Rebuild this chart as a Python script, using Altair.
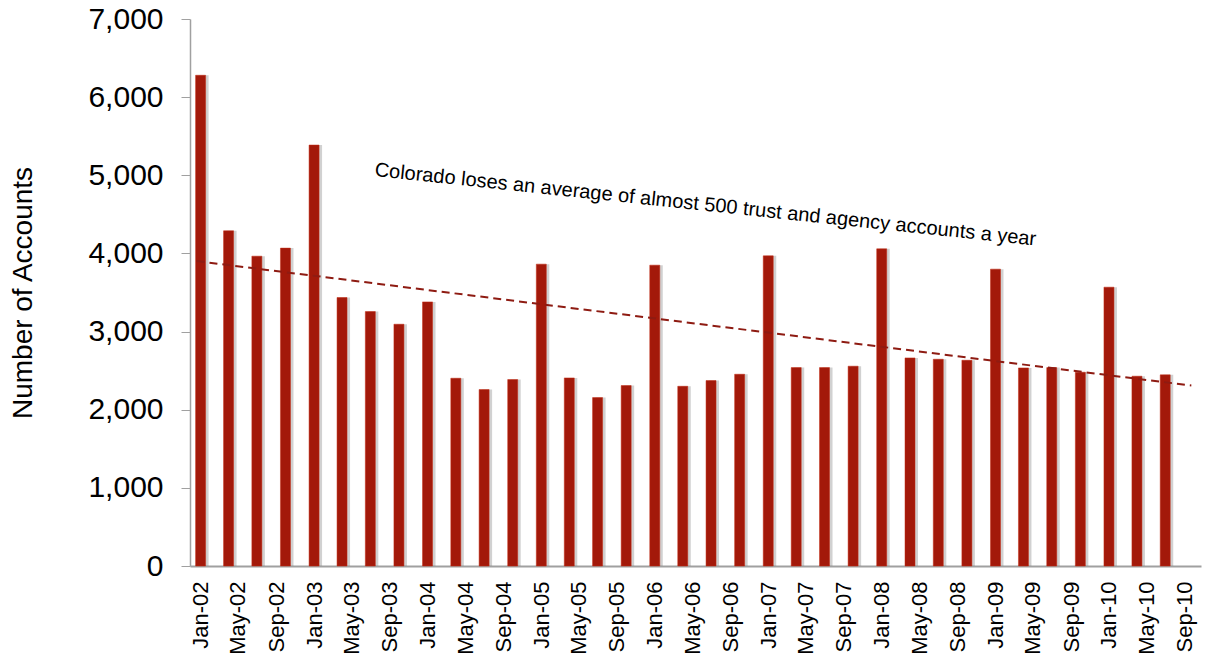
import altair as alt
import pandas as pd

# Quarterly observations, Jan-02 .. Jul-10
dates = pd.date_range("2002-01-01", "2010-07-01", freq="QS-JAN").strftime("%Y-%m-%d").tolist()
accounts = [6280, 4290, 3965, 4068, 5387, 3436, 3256, 3094, 3380, 2403,
            2258, 2386, 3863, 2407, 2155, 2309, 3850, 2300, 2373, 2454,
            3969, 2539, 2539, 2557, 4059, 2663, 2646, 2633, 3799, 2535,
            2539, 2480, 3568, 2429, 2446]

tick_years = list(range(2002, 2011))
tick_months = [1, 5, 9]
annotation = "Colorado loses an average of almost 500 trust and agency accounts a year"

df = pd.DataFrame({"date": dates, "accounts": accounts})

x_start = pd.Timestamp("2001-12-14")
x_end = pd.Timestamp("2010-10-08")
trend_start = pd.Timestamp("2001-12-19")
trend_end = pd.Timestamp("2010-09-23")


def ms(ts):
    return int(ts.value // 1_000_000)


def dt(ts):
    return alt.DateTime(year=ts.year, month=ts.month, date=ts.day, utc=True)


tick_values = [alt.DateTime(year=y, month=m, date=1, utc=True)
               for y in tick_years for m in tick_months]

x_scale = alt.Scale(type="utc", domain=[dt(x_start), dt(x_end)])
y_scale = alt.Scale(domain=[0, 7000], nice=False)

x_axis = alt.Axis(
    values=tick_values,
    labelExpr="utcFormat(datum.value, '%b-%y')",
    labelAngle=270,
    labelFontSize=22,
    labelFont="Liberation Sans",
    labelColor="#000000",
    labelPadding=15,
    ticks=False,
    domainColor="#a0a0a0",
    domainWidth=2,
    grid=False,
    title=None,
    labelOverlap=False,
)

y_axis = alt.Axis(
    values=list(range(0, 7001, 1000)),
    labelExpr="format(datum.value, ',')",
    labelFontSize=30,
    labelFont="Liberation Sans",
    labelColor="#000000",
    labelPadding=18,
    tickSize=9,
    tickColor="#a0a0a0",
    domainColor="#a0a0a0",
    domainWidth=1.5,
    grid=False,
    title="Number of Accounts",
    titleFont="Liberation Sans",
    titleFontSize=28,
    titleFontWeight="normal",
    titleColor="#000000",
    titlePadding=50,
)

base = alt.Chart(df)

shadow = base.mark_bar(width=10, xOffset=3, color="#7a7a7a", opacity=0.35).encode(
    x=alt.X("date:T", scale=x_scale, axis=x_axis),
    y=alt.Y("accounts:Q", scale=y_scale, axis=y_axis),
)

bars = base.mark_bar(width=10, color="#A3190A", stroke="#C42A12", strokeWidth=0.5).encode(
    x=alt.X("date:T", scale=x_scale, axis=x_axis),
    y=alt.Y("accounts:Q", scale=y_scale, axis=y_axis),
)

trend = base.transform_calculate(
    t="toDate(datum.date)"
).transform_regression(
    "t", "accounts", extent=[ms(trend_start), ms(trend_end)]
).mark_line(color="#8E1B12", strokeWidth=2, strokeDash=[8, 5]).encode(
    x=alt.X("t:T", scale=x_scale, axis=x_axis),
    y=alt.Y("accounts:Q", scale=y_scale, axis=y_axis),
)

label = alt.Chart(pd.DataFrame({"text": [annotation]})).mark_text(
    angle=6,
    fontSize=20,
    font="Liberation Sans Narrow, Liberation Sans",
    color="#000000",
    align="center",
    baseline="middle",
).encode(
    x=alt.datum(dt(pd.Timestamp("2006-06-13")), type="temporal", scale=x_scale, axis=x_axis),
    y=alt.datum(4622, type="quantitative", scale=y_scale, axis=y_axis),
    text="text:N",
)

chart = alt.layer(shadow, bars, trend, label).properties(
    width=1011,
    height=547,
    autosize=alt.AutoSizeParams(type="none"),
    padding={"left": 190, "top": 19, "right": 4, "bottom": 94},
    background="white",
).configure_view(stroke=None)

chart.save("out.html", embed_options={"renderer": "svg", "actions": False})
